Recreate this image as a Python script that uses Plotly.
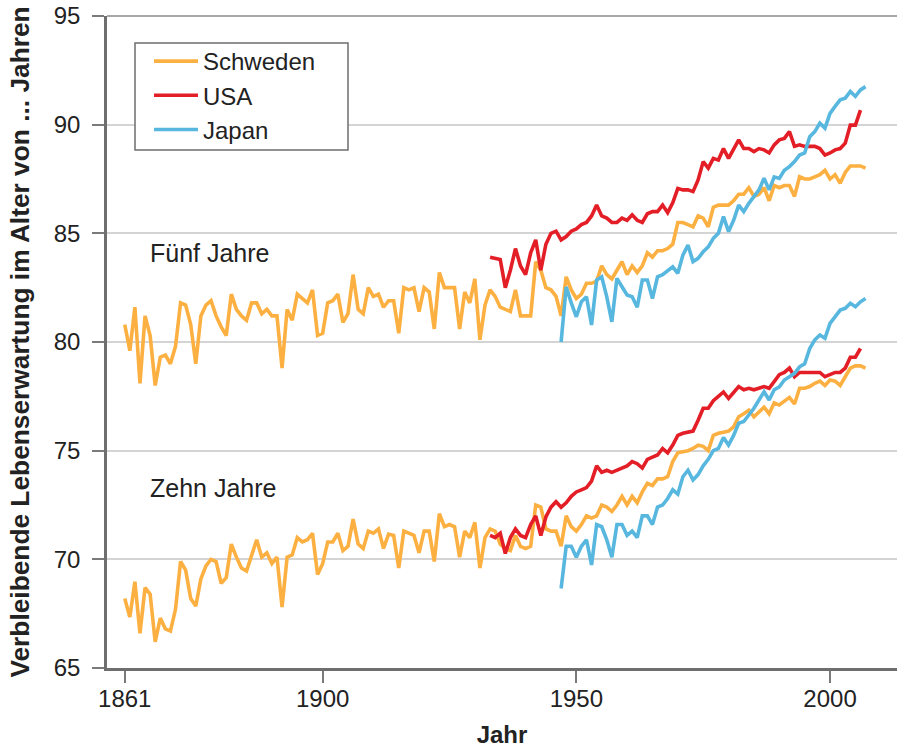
import plotly.graph_objects as go

# ---------------- data ----------------
years_sweden = list(range(1861, 2008))
years_usa = list(range(1933, 2007))
years_japan = list(range(1947, 2008))

sweden_5 = [
    80.8, 79.6, 81.6, 78.1, 81.2, 80.3, 78.0, 79.3, 79.4, 79.0,
    79.8, 81.8, 81.7, 80.8, 79.0, 81.2, 81.7, 81.9, 81.2, 80.7,
    80.3, 82.2, 81.5, 81.2, 81.0, 81.8, 81.8, 81.3, 81.5, 81.2,
    81.2, 78.8, 81.5, 81.0, 82.2, 82.0, 81.8, 82.4, 80.3, 80.4,
    81.8, 81.9, 82.2, 80.9, 81.3, 83.1, 81.5, 81.3, 82.5, 82.1,
    82.2, 81.6, 81.9, 81.9, 80.4, 82.5, 82.4, 82.5, 81.4, 82.5,
    82.3, 80.6, 83.2, 82.5, 82.5, 82.5, 80.6, 82.3, 81.8, 82.9,
    80.1, 81.7, 82.4, 82.1, 81.6, 81.5, 81.4, 82.4, 81.2, 81.2,
    81.2, 83.7, 83.3, 82.5, 82.4, 82.1, 81.2, 83.0, 82.4, 82.0,
    82.2, 82.7, 82.7, 82.8, 83.5, 83.1, 82.9, 83.3, 83.7, 83.1,
    83.5, 83.2, 83.5, 84.1, 83.9, 84.2, 84.2, 84.3, 84.5, 85.5,
    85.5, 85.4, 85.3, 85.8, 85.7, 85.3, 86.2, 86.3, 86.3, 86.3,
    86.5, 86.8, 86.8, 87.1, 86.7, 86.8, 87.1, 86.5, 87.2, 87.1,
    87.2, 87.2, 86.7, 87.6, 87.5, 87.5, 87.6, 87.7, 87.9, 87.5,
    87.7, 87.3, 87.8, 88.1, 88.1, 88.1, 88.0,
]

sweden_10 = [
    68.2, 67.35, 68.97, 66.6, 68.7, 68.4, 66.2, 67.3, 66.8, 66.7,
    67.7, 69.9, 69.5, 68.2, 67.85, 69.1, 69.7, 70.0, 69.9, 68.9,
    69.16, 70.7, 70.1, 69.6, 69.46, 70.2, 70.9, 70.1, 70.3, 69.8,
    70.1, 67.8, 70.1, 70.2, 71.0, 70.8, 70.9, 71.2, 69.3, 69.8,
    70.8, 70.8, 71.2, 70.4, 70.6, 71.85, 70.7, 70.5, 71.3, 71.2,
    71.4, 70.5, 71.16, 71.1, 69.6, 71.3, 71.2, 71.1, 70.3, 71.3,
    71.3, 69.9, 72.1, 71.5, 71.6, 71.5, 70.1, 71.3, 71.0, 71.7,
    69.6, 71.0, 71.4, 71.3, 70.7, 70.5, 70.4, 71.1, 70.6, 70.5,
    70.6, 72.5, 72.4, 71.4, 71.3, 71.3, 70.6, 72.0, 71.5, 71.3,
    71.6, 72.0, 71.9, 72.0, 72.5, 72.4, 72.2, 72.5, 72.9, 72.5,
    72.9, 72.6, 73.1, 73.5, 73.4, 73.7, 73.7, 73.8, 74.5, 74.9,
    74.95, 75.0, 75.1, 75.25, 75.2, 75.0, 75.7, 75.8, 75.85, 75.9,
    76.1, 76.56, 76.7, 76.86, 76.56, 76.8, 77.0, 76.7, 77.2, 77.1,
    77.3, 77.45, 77.15, 77.87, 77.87, 77.95, 78.1, 78.2, 78.0, 78.25,
    78.2, 78.0, 78.4, 78.8, 78.9, 78.9, 78.8,
]

usa_5 = [
    83.9, 83.85, 83.8, 82.5, 83.3, 84.3, 83.5, 83.1, 84.1, 84.7,
    83.3, 84.5, 85.0, 85.1, 84.7, 84.85, 85.1, 85.2, 85.4, 85.5,
    85.8, 86.3, 85.8, 85.7, 85.5, 85.5, 85.7, 85.6, 85.85, 85.6,
    85.5, 85.9, 86.0, 86.0, 86.3, 85.95, 86.4, 87.07, 87.0, 87.0,
    86.92, 87.46, 88.3, 88.0, 88.45, 88.37, 88.9, 88.45, 88.9, 89.3,
    88.9, 88.9, 88.76, 88.9, 88.84, 88.7, 89.07, 89.3, 89.37, 89.68,
    89.0, 89.07, 89.0, 89.0, 89.0, 88.9, 88.6, 88.7, 88.84, 88.9,
    89.15, 89.98, 89.98, 90.67,
]

usa_10 = [
    71.1, 71.0, 71.2, 70.27, 71.0, 71.4, 71.1, 71.0, 71.6, 72.0,
    71.1, 71.95, 72.4, 72.65, 72.4, 72.6, 72.9, 73.1, 73.2, 73.3,
    73.6, 74.3, 74.0, 74.1, 74.0, 74.1, 74.2, 74.3, 74.5, 74.4,
    74.2, 74.6, 74.7, 74.8, 75.1, 74.9, 75.26, 75.7, 75.8, 75.85,
    75.9, 76.4, 76.95, 76.95, 77.3, 77.5, 77.7, 77.4, 77.7, 77.95,
    77.8, 77.87, 77.8, 77.87, 77.95, 77.87, 78.2, 78.5, 78.6, 78.8,
    78.4, 78.6, 78.6, 78.6, 78.6, 78.6, 78.4, 78.5, 78.6, 78.6,
    78.8, 79.3, 79.3, 79.7,
]

japan_5 = [
    80.0, 82.54, 81.8, 81.16, 81.85, 82.08, 80.78, 82.85, 83.0, 82.08,
    80.93, 82.93, 82.54, 82.16, 82.08, 81.6, 82.85, 82.85, 82.0, 83.0,
    83.1, 83.3, 83.46, 83.16, 84.0, 84.46, 83.7, 83.85, 84.15, 84.38,
    84.77, 85.0, 85.77, 85.08, 85.6, 86.3, 86.0, 86.38, 86.7, 87.0,
    87.53, 87.0, 87.6, 87.53, 87.9, 88.07, 88.3, 88.6, 88.7, 89.45,
    89.68, 90.07, 89.84, 90.52, 90.84, 91.14, 91.22, 91.53, 91.3, 91.6,
    91.75,
]

japan_10 = [
    68.66, 70.6, 70.6, 70.1, 70.6, 70.9, 69.74, 71.6, 71.5, 70.9,
    70.1, 71.6, 71.6, 71.1, 71.3, 71.0, 72.0, 72.0, 71.6, 72.4,
    72.5, 72.8, 73.2, 73.0, 73.8, 74.1, 73.65, 73.9, 74.3, 74.6,
    75.0, 75.1, 75.6, 75.26, 75.7, 76.26, 76.34, 76.64, 76.95, 77.33,
    77.71, 77.33, 77.8, 77.94, 78.25, 78.4, 78.56, 78.86, 79.0, 79.7,
    80.1, 80.32, 80.17, 80.86, 81.16, 81.47, 81.55, 81.78, 81.62, 81.85,
    82.0,
]

x_tick_values = [1861, 1900, 1950, 2000]
x_tick_labels = ["1861", "1900", "1950", "2000"]
y_tick_values = [65, 70, 75, 80, 85, 90, 95]
series_names = ["Schweden", "USA", "Japan"]
group_labels = ["Fünf Jahre", "Zehn Jahre"]

# ---------------- style ----------------
COLORS = {"Schweden": "#FDB042", "USA": "#E31E26", "Japan": "#58B7DF"}
FONT = "Liberation Sans, Arial, sans-serif"
TEXT = "#222222"
LW = 3.6

fig = go.Figure()

series = [
    ("Schweden", years_sweden, sweden_5, sweden_10),
    ("USA", years_usa, usa_5, usa_10),
    ("Japan", years_japan, japan_5, japan_10),
]
for name, yrs, v5, v10 in series:
    fig.add_trace(go.Scatter(
        x=yrs, y=v5, mode="lines", name=name, legendgroup=name,
        line=dict(color=COLORS[name], width=LW), showlegend=True,
    ))
    fig.add_trace(go.Scatter(
        x=yrs, y=v10, mode="lines", name=name, legendgroup=name,
        line=dict(color=COLORS[name], width=LW), showlegend=False,
    ))

W, H = 899, 748
ML, MR, MT, MB = 107, 2, 16, 80
PW, PH = W - ML - MR, H - MT - MB


def px_x(p):  # p: pixel position in the browser window
    return (p - ML) / PW


def px_y(p):
    return (H - MB - p) / PH


fig.update_layout(
    width=W, height=H,
    margin=dict(l=ML, r=MR, t=MT, b=MB, pad=0),
    paper_bgcolor="white", plot_bgcolor="white",
    font=dict(family=FONT, size=24, color=TEXT),
    showlegend=True,
    legend=dict(
        x=px_x(149), y=px_y(39), xanchor="left", yanchor="top",
        bgcolor="rgba(0,0,0,0)", borderwidth=0,
        font=dict(size=24, color=TEXT),
        traceorder="grouped", tracegroupgap=0, itemwidth=44,
    ),
    xaxis=dict(
        range=[1857.5, 2013.2], tickmode="array",
        tickvals=x_tick_values, ticktext=x_tick_labels,
        showgrid=False, zeroline=False,
        showline=True, linecolor="#6e6e6e", linewidth=2.5,
        ticks="outside", ticklen=12, tickwidth=2, tickcolor="#7a7a7a",
        tickfont=dict(size=24, color=TEXT), ticklabelstandoff=-5,
        title=dict(text="<b>Jahr</b>", font=dict(size=24, color=TEXT), standoff=17),
    ),
    yaxis=dict(
        range=[65, 95], tickmode="array", tickvals=y_tick_values,
        showgrid=True, gridcolor="#d4d4d4", gridwidth=2,
        zeroline=False, ticklabeloverflow="allow",
        showline=True, linecolor="#6e6e6e", linewidth=2.5,
        ticks="outside", ticklen=12, tickwidth=2, tickcolor="#7a7a7a",
        tickfont=dict(size=24, color=TEXT), ticklabelstandoff=7,
        title=dict(text="<b>Verbleibende Lebenserwartung im Alter von ... Jahren</b>",
                   font=dict(size=26.3, color=TEXT), standoff=17),
    ),
    shapes=[
        dict(type="rect", xref="paper", yref="paper",
             x0=px_x(135), x1=px_x(348), y0=px_y(150), y1=px_y(43),
             line=dict(color="#6e6e6e", width=1.5), fillcolor="white", layer="above"),
        dict(type="line", xref="paper", yref="paper", x0=0, x1=1, y0=1, y1=1,
             line=dict(color="#a8a8a8", width=2), layer="above"),
    ],
    annotations=[
        dict(x=1865.5, y=84.08, xref="x", yref="y", text=group_labels[0],
             showarrow=False, xanchor="left", yanchor="middle",
             font=dict(size=25, color=TEXT)),
        dict(x=1865.5, y=73.29, xref="x", yref="y", text=group_labels[1],
             showarrow=False, xanchor="left", yanchor="middle",
             font=dict(size=25, color=TEXT)),
    ],
)

# remove the browser's default 8px page margin so the figure fills the window
fig.write_html(
    "out.html",
    config={"displayModeBar": False},
    post_script="document.body.style.margin='0px';",
)
